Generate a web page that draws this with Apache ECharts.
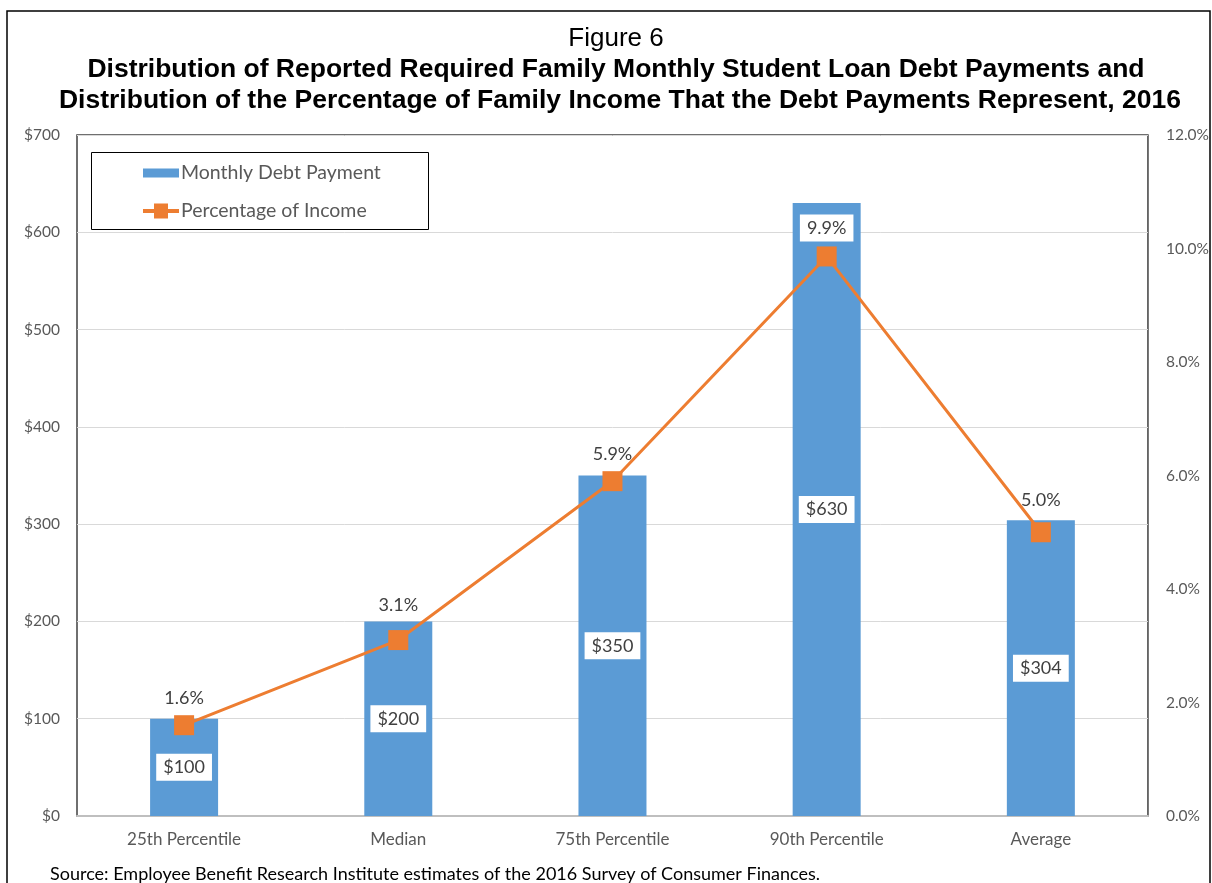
<!DOCTYPE html>
<html>
<head>
<meta charset="utf-8">
<script src="https://cdn.jsdelivr.net/npm/echarts@6/dist/echarts.min.js"></script>
<style>
html,body{margin:0;padding:0;background:#fff;}
#chart{width:1212px;height:883px;}
</style>
</head>
<body>
<div id="chart"></div>
<script>
const categories = ['25th Percentile', 'Median', '75th Percentile', '90th Percentile', 'Average'];
const monthlyDebtPayment = [100, 200, 350, 630, 304];
const percentageOfIncome = [1.6, 3.1, 5.9, 9.86, 5.0];
const leftTicks = {min: 0, max: 700, interval: 100};
const rightTicks = {min: 0, max: 12, interval: 2};

const FONT = 'Lato';
const lineLabelStyle = [
  {distance: 8},
  {distance: 16},
  {distance: 8},
  {distance: 5, backgroundColor: '#fff', padding: [5, 7, 4, 7]},
  {distance: 13}
];
const lineData = percentageOfIncome.map((v, i) => ({value: v, label: lineLabelStyle[i]}));

const chart = echarts.init(document.getElementById('chart'), null, {renderer: 'canvas'});
chart.setOption({
  backgroundColor: '#fff',
  animation: false,
  graphic: [
    {type: 'rect', z: -10, shape: {x: 7, y: 11, width: 1203, height: 900},
     style: {fill: 'none', stroke: '#000', lineWidth: 1.5}},
    {type: 'text', x: 616, y: 39, style: {text: 'Figure 6', font: '26px "Liberation Sans", Arial', fill: '#000', textAlign: 'center', textVerticalAlign: 'middle'}},
    {type: 'text', x: 616, y: 70, style: {text: 'Distribution of Reported Required Family Monthly Student Loan Debt Payments and', font: 'bold 26.5px "Liberation Sans", Arial', fill: '#000', textAlign: 'center', textVerticalAlign: 'middle'}},
    {type: 'text', x: 620, y: 101, style: {text: 'Distribution of the Percentage of Family Income That the Debt Payments Represent, 2016', font: 'bold 26.5px "Liberation Sans", Arial', fill: '#000', textAlign: 'center', textVerticalAlign: 'middle'}},
    {type: 'rect', z: 50, shape: {x: 91.5, y: 152.5, width: 337, height: 77},
     style: {fill: '#fff', stroke: '#000', lineWidth: 1}},
    {type: 'text', x: 50, y: 865, style: {text: 'Source: Employee Benefit Research Institute estimates of the 2016 Survey of Consumer Finances.', font: '18px ' + FONT, fill: '#000', textVerticalAlign: 'top'}}
  ],
  legend: {
    orient: 'vertical',
    left: 143, top: 162,
    z: 60,
    padding: 0,
    itemWidth: 36, itemHeight: 15,
    itemGap: 16,
    textStyle: {fontFamily: FONT, fontSize: 19.5, color: '#595959', lineHeight: 22, padding: [0, 0, 0, -3]},
    data: [
      {name: 'Monthly Debt Payment', icon: 'path://M0,0L0,0M0,3h36v9h-36zM36,15L36,15'},
      {name: 'Percentage of Income', icon: 'path://M0,5.5h11v-5.5h14v5.5h11v4h-11v5.5h-14v-5.5h-11z'}
    ]
  },
  grid: {left: 77, right: 62, top: 135, bottom: 67, show: true, borderColor: '#404040', borderWidth: 1.5, containLabel: false},
  xAxis: {
    type: 'category', data: categories,
    axisLine: {lineStyle: {color: '#bfbfbf', width: 2}},
    axisTick: {show: false},
    axisLabel: {fontFamily: FONT, fontSize: 17, color: '#595959', margin: 15}
  },
  yAxis: [
    {type: 'value', min: leftTicks.min, max: leftTicks.max, interval: leftTicks.interval,
     axisLine: {show: false}, axisTick: {show: false},
     axisLabel: {fontFamily: FONT, fontSize: 15.5, color: '#595959', margin: 17, formatter: v => '$' + v},
     splitLine: {lineStyle: {color: '#d9d9d9', width: 1}}},
    {type: 'value', min: rightTicks.min, max: rightTicks.max, interval: rightTicks.interval,
     axisLine: {show: false}, axisTick: {show: false},
     axisLabel: {fontFamily: FONT, fontSize: 15.5, color: '#595959', margin: 18, formatter: v => v.toFixed(1) + '%'},
     splitLine: {show: false}}
  ],
  series: [
    {name: 'Monthly Debt Payment', type: 'bar', data: monthlyDebtPayment, barWidth: 68,
     itemStyle: {color: '#5B9BD5'},
     label: {show: true, position: 'inside', formatter: p => '$' + p.value,
       fontFamily: FONT, fontSize: 18, color: '#404040', backgroundColor: '#fff', padding: [5, 7, 4, 7]}},
    {name: 'Percentage of Income', type: 'line', yAxisIndex: 1, data: lineData,
     symbol: 'rect', symbolSize: 20, z: 5,
     lineStyle: {color: '#ED7D31', width: 3},
     itemStyle: {color: '#ED7D31'},
     label: {show: true, position: 'top', formatter: p => p.value.toFixed(1) + '%',
       fontFamily: FONT, fontSize: 18, color: '#404040'}}
  ]
});
</script>
</body>
</html>
